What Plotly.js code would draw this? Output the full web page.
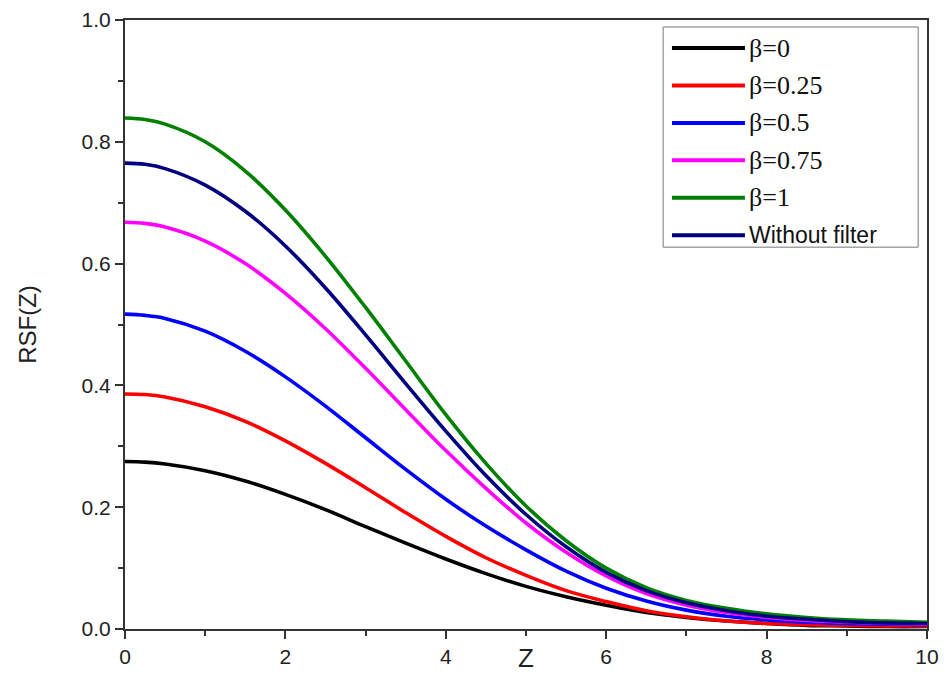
<!DOCTYPE html>
<html>
<head>
<meta charset="utf-8">
<script src="https://cdn.plot.ly/plotly-3.0.1.min.js"></script>
<style>html,body{margin:0;padding:0;background:#fff;}#chart{width:945px;height:673px;}</style>
</head>
<body>
<div id="chart"></div>
<script>
const zValues = [0,0.25,0.5,1,1.5,2,2.5,3,3.5,4,4.5,5,5.5,6,6.5,7,7.5,8,8.5,9,9.5,10];

const beta0    = [0.275,0.274,0.271,0.260,0.243,0.221,0.196,0.168,0.141,0.115,0.091,0.070,0.053,0.039,0.027,0.019,0.013,0.009,0.006,0.005,0.004,0.004];
const beta025  = [0.386,0.385,0.381,0.365,0.341,0.309,0.272,0.232,0.191,0.152,0.117,0.088,0.063,0.045,0.030,0.020,0.013,0.009,0.007,0.006,0.005,0.005];
const beta05   = [0.517,0.515,0.510,0.489,0.456,0.414,0.366,0.314,0.262,0.213,0.169,0.130,0.095,0.067,0.046,0.031,0.021,0.015,0.011,0.009,0.008,0.007];
const beta075  = [0.668,0.666,0.660,0.637,0.600,0.551,0.493,0.428,0.360,0.293,0.231,0.174,0.126,0.087,0.058,0.039,0.027,0.019,0.014,0.011,0.009,0.008];
const beta1    = [0.839,0.8365,0.829,0.800,0.752,0.688,0.612,0.528,0.440,0.352,0.272,0.202,0.145,0.100,0.068,0.047,0.034,0.025,0.019,0.015,0.013,0.011];
const noFilter = [0.765,0.763,0.756,0.729,0.686,0.629,0.560,0.483,0.403,0.325,0.252,0.188,0.135,0.093,0.063,0.043,0.030,0.021,0.016,0.012,0.010,0.009];

const seriesNames  = ["\u03b2=0","\u03b2=0.25","\u03b2=0.5","\u03b2=0.75","\u03b2=1","Without filter"];
const seriesValues = [beta0, beta025, beta05, beta075, beta1, noFilter];
const seriesColors = ["#000000","#ff0000","#0000ff","#ff00ff","#008000","#000080"];

const xTickVals = [0,2,4,6,8,10];
const yTickVals = [0,0.2,0.4,0.6,0.8,1.0];

const traces = seriesValues.map((vals, i) => ({
  x: zValues, y: vals, type: 'scatter', mode: 'lines', name: seriesNames[i],
  line: {color: seriesColors[i], width: 3.6, shape: 'spline', smoothing: 1},
  showlegend: false, hoverinfo: 'skip'
}));

// custom legend
const legTop = 0.954, legStep = 0.0615;
const shapes = [{
  type: 'rect', xref: 'paper', yref: 'paper', x0: 0.671, x1: 0.989, y0: 0.627, y1: 0.9885,
  line: {color: '#777', width: 1}, fillcolor: 'rgba(255,255,255,1)', layer: 'above'
}];
const annotations = [];
seriesNames.forEach((nm, i) => {
  const yy = legTop - i * legStep;
  shapes.push({type: 'line', xref: 'paper', yref: 'paper', x0: 0.682, x1: 0.773, y0: yy, y1: yy,
    line: {color: seriesColors[i], width: 4}, layer: 'above'});
  const serif = nm.indexOf('\u03b2') === 0;
  annotations.push({xref: 'paper', yref: 'paper', x: 0.776, y: yy, xanchor: 'left', yanchor: 'middle',
    text: nm, showarrow: false,
    font: serif ? {family: 'Liberation Serif, Times New Roman, serif', size: 26, color: '#111'}
                : {family: 'Liberation Sans, Arial, sans-serif', size: 23, color: '#111'}});
});

const axisCommon = {
  showline: true, mirror: true, linecolor: '#333', linewidth: 2,
  showgrid: false, zeroline: false, ticks: 'outside', ticklen: 8, tickwidth: 2, tickcolor: '#333',
  tickfont: {family: 'Liberation Sans, Arial, sans-serif', size: 21, color: '#222'}
};

const layout = {
  width: 945, height: 673,
  margin: {l: 125, r: 18, t: 20, b: 44},
  paper_bgcolor: '#fff', plot_bgcolor: '#fff',
  showlegend: false,
  xaxis: Object.assign({}, axisCommon, {
    range: [0, 10], tickvals: xTickVals, ticktext: xTickVals.map(String),
    minor: {dtick: 1, ticklen: 5, tickwidth: 2, tickcolor: '#333', ticks: 'outside'},
    title: {text: 'Z', font: {family: 'Liberation Sans, Arial, sans-serif', size: 26, color: '#222'}, standoff: 0}
  }),
  yaxis: Object.assign({}, axisCommon, {
    range: [0, 1], tickvals: yTickVals, ticktext: yTickVals.map(v => v.toFixed(1)),
    minor: {dtick: 0.1, ticklen: 5, tickwidth: 2, tickcolor: '#333', ticks: 'outside'},
    title: {text: 'RSF(Z)', font: {family: 'Liberation Sans, Arial, sans-serif', size: 24, color: '#222'}, standoff: 38}
  }),
  shapes: shapes,
  annotations: annotations
};

Plotly.newPlot('chart', traces, layout, {staticPlot: true, displayModeBar: false});
</script>
</body>
</html>
